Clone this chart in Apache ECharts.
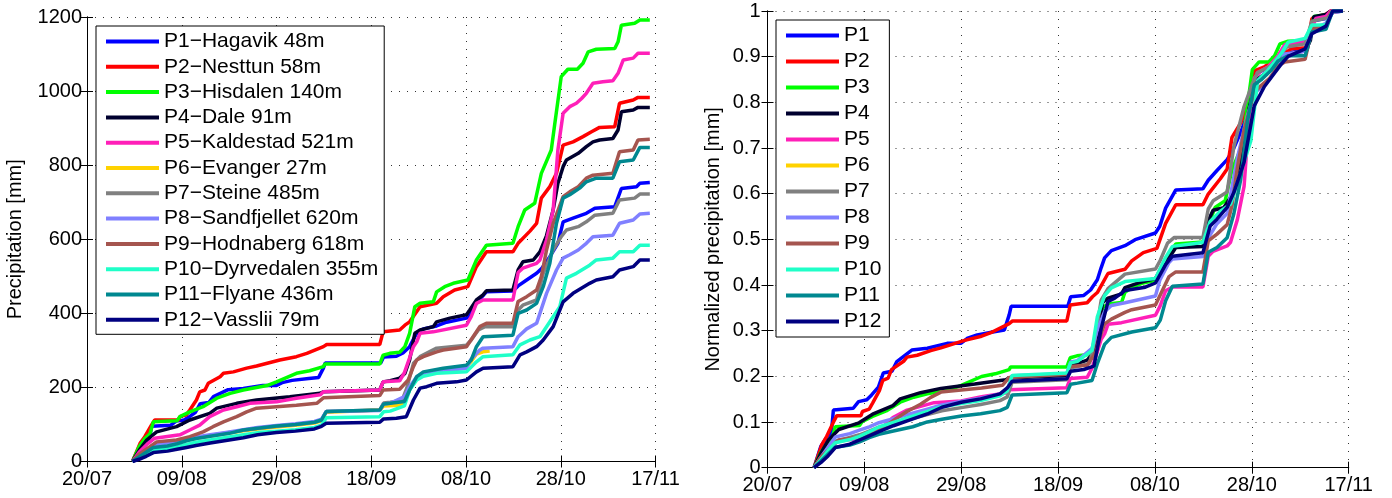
<!DOCTYPE html>
<html>
<head>
<meta charset="utf-8">
<script src="https://cdn.jsdelivr.net/npm/echarts@6/dist/echarts.min.js"></script>
<style>
  html, body { margin: 0; padding: 0; background: #fff; }
  #chart { width: 1392px; height: 498px; }
</style>
</head>
<body>
<div id="chart"></div>
<script>
// Cumulative precipitation per station, [day since 20/07, mm]
const xTickLabels = ['20/07', '09/08', '29/08', '18/09', '08/10', '28/10', '17/11'];

const stationNames = [
  'P1\u2212Hagavik 48m', 'P2\u2212Nesttun 58m', 'P3\u2212Hisdalen 140m', 'P4\u2212Dale 91m',
  'P5\u2212Kaldestad 521m', 'P6\u2212Evanger 27m', 'P7\u2212Steine 485m', 'P8\u2212Sandfjellet 620m',
  'P9\u2212Hodnaberg 618m', 'P10\u2212Dyrvedalen 355m', 'P11\u2212Flyane 436m', 'P12\u2212Vasslii 79m'
];
const shortNames = ['P1', 'P2', 'P3', 'P4', 'P5', 'P6', 'P7', 'P8', 'P9', 'P10', 'P11', 'P12'];

const colors = ['#0000ff', '#ff0000', '#00ff00', '#00002e', '#ff1fb8', '#ffd200',
                '#808080', '#8080ff', '#a5554f', '#1fffc8', '#008890', '#000080'];

const p1 = [[9.6,0],[11,35],[12.2,50],[13.2,58],[13.6,95],[17.7,98],[18.8,109],[20.5,112],[21.5,120],[22.9,133],[23.9,156],[25.7,159],[26.7,175],[29.8,194],[33,197],[37.1,205],[39.9,205],[41.2,213],[43.3,219],[46.8,224],[48.9,227],[49.9,252],[50.3,266],[62,266],[62.6,282],[65.3,284],[66.7,293],[68.1,310],[68.9,330],[69.6,346],[71,358],[73.8,366],[75.9,376],[80.1,387],[81,398],[82.2,428],[84.3,458],[89.9,460],[91,474],[92.8,490],[94.9,508],[95.9,520],[97.7,553],[99.4,589],[100.5,647],[102.6,657],[105.4,670],[107.2,684],[111.4,688],[112.8,737],[116,742],[116.7,751],[118.8,753]];
const p2 = [[9.6,0],[11.2,49],[12.2,67],[13.6,98],[14.3,112],[19.3,112],[19.6,121],[21,126],[21.7,139],[23.1,166],[23.8,188],[24.9,193],[25.6,211],[28.1,229],[28.8,238],[30.9,242],[33.7,252],[35.8,258],[40.7,274],[44.2,283],[46.4,292],[49.9,310],[50.6,316],[61.8,316],[62.5,350],[66,355],[67.1,368],[68.1,377],[70.3,418],[73.8,427],[75.2,445],[77.6,463],[80.4,472],[82.2,526],[84.3,566],[89.9,566],[91,589],[93.5,622],[94.9,643],[95.9,711],[97.7,742],[99.1,778],[100.5,854],[102.6,863],[104.7,877],[106.5,890],[108.2,902],[111.4,904],[112.4,967],[115.3,976],[116.3,983],[118.8,983]];
const p3 = [[9.6,0],[11,40],[12.2,62],[13.3,75],[14,107],[19,110],[19.6,121],[21.7,134],[24.5,148],[27.4,171],[30.2,184],[33,193],[38,205],[40,215],[44.2,238],[47,245],[49.9,256],[50.2,263],[61.8,263],[62.5,287],[63.9,292],[66,295],[67.1,310],[68.1,346],[69.2,418],[70.3,427],[73.1,431],[73.8,458],[75.5,472],[77.3,481],[80.4,490],[82.2,544],[84.3,584],[89.9,589],[91,634],[92.4,679],[94.5,697],[95.9,778],[98,841],[98.7,908],[100.1,1039],[101.5,1059],[103.5,1059],[104.7,1075],[105.8,1106],[107.5,1113],[111.4,1115],[112.1,1133],[112.8,1178],[115.6,1183],[116.7,1192],[118.8,1192]];
const p4 = [[9.6,0],[11,30],[12.6,58],[14.7,80],[18.9,94],[21.7,112],[25.9,130],[27.4,144],[31.6,157],[35.8,166],[42.8,175],[49.2,184],[49.9,188],[61.8,193],[62.5,215],[64,218],[66,225],[67.1,238],[68.1,274],[69.2,346],[70.3,355],[73.1,364],[73.8,377],[76.6,387],[80.1,396],[80.8,409],[82.2,436],[83.6,450],[84.3,461],[89.9,463],[91,517],[92,539],[94.2,544],[95.6,566],[97,610],[98.4,679],[99.4,751],[100.5,796],[101.2,814],[103.7,832],[105.4,850],[106.8,863],[108.2,868],[111,872],[112.1,895],[112.8,944],[115.3,949],[116.3,956],[118.8,956]];
const p5 = [[9.6,0],[11,25],[12.9,49],[14.3,63],[19.6,72],[21.7,85],[23.8,98],[25.9,121],[28.8,139],[31.6,148],[34.4,157],[40,161],[44.2,171],[49.2,180],[49.9,188],[61.8,193],[62.5,215],[66,218],[67,240],[68.1,280],[68.9,310],[69.6,323],[70.3,346],[73.1,350],[80.1,368],[81.1,391],[82.2,427],[83.6,436],[89.9,436],[91,510],[92,522],[94.9,535],[95.6,544],[97,598],[98.4,679],[99.4,841],[100.5,940],[101.9,958],[103.3,967],[104.4,980],[105.4,994],[106.8,1021],[108.9,1025],[111,1028],[112.1,1048],[113.2,1084],[115.3,1089],[116.3,1102],[118.8,1102]];
const p6 = [[9.6,0],[11,13],[12.5,28],[14,40],[17,47],[19,52],[21,58],[23,63],[26,69],[29,75],[33,83],[36,88],[40,93],[44,98],[48,104],[49.5,110],[50.5,133],[61.8,139],[62.6,150],[66,152],[67,160],[68.1,195],[69.6,225],[71,238],[75,250],[80.1,256],[81.1,270],[82.2,290],[83.6,296],[85,298]];
const p7 = [[9.6,0],[11,15],[12.5,30],[14,42],[17,48],[19,52],[21,58],[23,64],[26,70],[29,76],[33,84],[36,90],[40,95],[44,100],[48,106],[49.5,112],[50.5,135],[61.8,139],[62.6,158],[64,160],[66.5,165],[67.5,198],[68.9,265],[70.3,283],[73.8,306],[80.1,314],[81.1,328],[82.6,355],[84,364],[89.9,364],[91,409],[92,422],[94.9,436],[96.3,508],[98.4,571],[100.1,607],[101.2,625],[103.7,634],[105.4,647],[107.2,665],[111,670],[112.4,706],[115.6,711],[116.7,722],[118.8,722]];
const p8 = [[9.6,0],[11,15],[12.5,30],[14,45],[17,50],[19,55],[21,60],[23,66],[26,72],[29,78],[33,86],[36,92],[40,97],[44,102],[48,108],[49.5,114],[50.5,135],[61.8,138],[62.6,155],[64,157],[67,175],[68.1,202],[69.6,229],[71,238],[73.8,242],[80.1,252],[81,275],[82.9,301],[83.6,306],[89.9,310],[91,337],[92.8,358],[94.9,373],[95.6,400],[97,454],[99.1,517],[100.5,549],[101.9,558],[103.7,571],[105.4,589],[106.8,607],[111,611],[112.4,643],[115.3,652],[116.7,668],[118.8,670]];
const p9 = [[9.6,0],[11,20],[13.3,40],[14.7,53],[18.9,58],[21.7,67],[24.5,80],[26.6,94],[28.8,107],[31.6,121],[33.7,134],[35.8,144],[44.2,152],[48.5,157],[49.9,172],[61.8,178],[62.5,193],[66,195],[67.8,220],[68.9,256],[69.6,274],[71,283],[73.8,296],[75.2,301],[80.1,310],[81.5,337],[82.9,364],[84.3,373],[89.9,373],[91,432],[92.8,445],[94.9,463],[95.9,499],[97,571],[98.4,643],[100.5,715],[101.9,728],[103.7,742],[105.4,765],[106.8,773],[111,778],[112.4,836],[115.3,841],[116.3,868],[118.8,870]];
const p10 = [[9.6,0],[11,10],[12.5,22],[14,32],[17,36],[19,40],[21,46],[23,52],[26,58],[29,64],[33,72],[36,78],[40,82],[44,86],[48,92],[49.5,98],[50.5,118],[61.8,121],[62.6,134],[64,136],[67,150],[68.1,193],[69.6,220],[71,230],[73.8,238],[80.1,242],[82.2,269],[83.6,283],[89.9,288],[91.4,315],[93.5,328],[95.6,337],[97,364],[99.8,418],[101.2,495],[103.3,508],[106.1,530],[107.5,544],[111,549],[112.4,566],[115.3,566],[116.7,584],[118.8,584]];
const p11 = [[9.6,0],[11,12],[12.5,25],[14,38],[17,42],[19,48],[21,56],[23,62],[26,68],[30,76],[33,85],[36,90],[40,96],[44,100],[48,106],[49.5,112],[50.5,135],[61.8,139],[62.6,155],[64,157],[67,162],[68.1,193],[69.6,229],[71,242],[75.2,252],[80.1,260],[81.1,274],[82.2,310],[83.6,337],[89.9,341],[91,400],[92.8,409],[94.9,427],[96.3,472],[97.7,535],[99.1,643],[100.5,711],[101.9,720],[104,738],[105.4,755],[107.5,765],[111,765],[112.4,809],[115.3,814],[116.7,848],[118.8,848]];
const p12 = [[9.6,0],[11,6],[12.5,14],[14,24],[17,28],[19,33],[21,38],[23,43],[26,50],[29,56],[33,64],[36,72],[40,78],[44,82],[48,88],[49.5,95],[50.5,103],[61.8,106],[62.6,115],[65.3,117],[67.4,121],[68.9,166],[70.3,198],[71.7,202],[73.8,211],[78,215],[80.1,220],[82.2,242],[83.6,252],[89.9,256],[91.4,288],[92.8,296],[94.9,310],[96.3,328],[98.4,364],[100.5,431],[102.6,454],[106.1,481],[107.5,490],[111,499],[112.4,517],[115.3,526],[116.7,544],[118.8,544]];

const stations = [p1, p2, p3, p4, p5, p6, p7, p8, p9, p10, p11, p12];

// Normalise each record by its season total; records that stop early are left out
function normalise(rec) {
  const last = rec[rec.length - 1];
  if (last[0] < 115) return [];
  return rec.map(([d, v]) => [d, v / last[1]]);
}

const FONT = 'Liberation Sans, Arial, Helvetica, sans-serif';
const dotted = { show: true, lineStyle: { color: '#333', width: 1, type: [1, 7] } };

function xAxisPair(grid) {
  const base = { gridIndex: grid, type: 'value', min: 0, max: 120, interval: 20 };
  return [
    Object.assign({}, base, {
      position: 'bottom',
      axisLine: { lineStyle: { color: '#000', width: 1 } },
      axisTick: { inside: true, length: 6, lineStyle: { color: '#000' } },
      axisLabel: { color: '#000', fontSize: 20, fontFamily: FONT, margin: 8,
                   formatter: v => xTickLabels[Math.round(v / 20)] },
      splitLine: dotted
    }),
    Object.assign({}, base, {
      position: 'top',
      axisLine: { lineStyle: { color: '#000', width: 1 } },
      axisTick: { inside: true, length: 6, lineStyle: { color: '#000' } },
      axisLabel: { show: false },
      splitLine: { show: false }
    })
  ];
}

function yAxisPair(grid, max, interval, name, gap, labelFmt, margin) {
  const base = { gridIndex: grid, type: 'value', min: 0, max: max, interval: interval };
  return [
    Object.assign({}, base, {
      position: 'left',
      name: name, nameLocation: 'middle', nameGap: gap,
      nameTextStyle: { color: '#000', fontSize: 20, fontFamily: FONT },
      axisLine: { show: true, lineStyle: { color: '#000', width: 1 } },
      axisTick: { show: true, inside: true, length: 6, lineStyle: { color: '#000' } },
      axisLabel: { color: '#000', fontSize: 20, fontFamily: FONT, margin: margin, formatter: labelFmt },
      splitLine: dotted
    }),
    Object.assign({}, base, {
      position: 'right',
      axisLine: { show: true, lineStyle: { color: '#000', width: 1 } },
      axisTick: { show: true, inside: true, length: 6, lineStyle: { color: '#000' } },
      axisLabel: { show: false },
      splitLine: { show: false }
    })
  ];
}

const xl = xAxisPair(0), xr = xAxisPair(1);
const yl = yAxisPair(0, 1200, 200, 'Precipitation [mm]', 62, v => String(v), 5);
const yr = yAxisPair(1, 1, 0.1, 'Normalized precipitation [mm]', 44,
                     v => (v === 0 ? '0' : v === 1 ? '1' : v.toFixed(1)), 7);

const LINE_W = 3.5;
const series = [];
stations.forEach((rec, i) => {
  series.push({
    name: stationNames[i], type: 'line', xAxisIndex: 0, yAxisIndex: 0,
    data: rec, showSymbol: false, symbol: 'none',
    lineStyle: { color: colors[i], width: LINE_W }, itemStyle: { color: colors[i] }
  });
});
stations.forEach((rec, i) => {
  series.push({
    name: shortNames[i], type: 'line', xAxisIndex: 1, yAxisIndex: 1,
    data: normalise(rec), showSymbol: false, symbol: 'none',
    lineStyle: { color: colors[i], width: LINE_W }, itemStyle: { color: colors[i] }
  });
});

const legendBase = {
  orient: 'vertical', icon: 'rect', itemWidth: 53, itemHeight: 4,
  backgroundColor: '#fff', borderColor: '#000', borderWidth: 1,
  textStyle: { color: '#000', fontSize: 21, fontFamily: FONT, lineHeight: 20 },
  selectedMode: false
};

const option = {
  animation: false,
  backgroundColor: '#fff',
  grid: [
    { left: 87, top: 17, width: 568.5, height: 444.5, containLabel: false },
    { left: 767.5, top: 11, width: 581.2, height: 456.7, containLabel: false }
  ],
  xAxis: [xl[0], xr[0], xl[1], xr[1]].map((a, i) => Object.assign(a, { gridIndex: i % 2 })),
  yAxis: [yl[0], yr[0], yl[1], yr[1]].map((a, i) => Object.assign(a, { gridIndex: i % 2 })),
  legend: [
    Object.assign({}, legendBase, {
      left: 96, top: 26, padding: [5, 6, 4, 10], itemGap: 4.3, data: stationNames
    }),
    Object.assign({}, legendBase, {
      left: 776, top: 20, padding: [5, 8, 5, 10], itemGap: 5, data: shortNames
    })
  ],
  series: series
};

const chart = echarts.init(document.getElementById('chart'), null, { renderer: 'canvas' });
chart.setOption(option);
</script>
</body>
</html>
